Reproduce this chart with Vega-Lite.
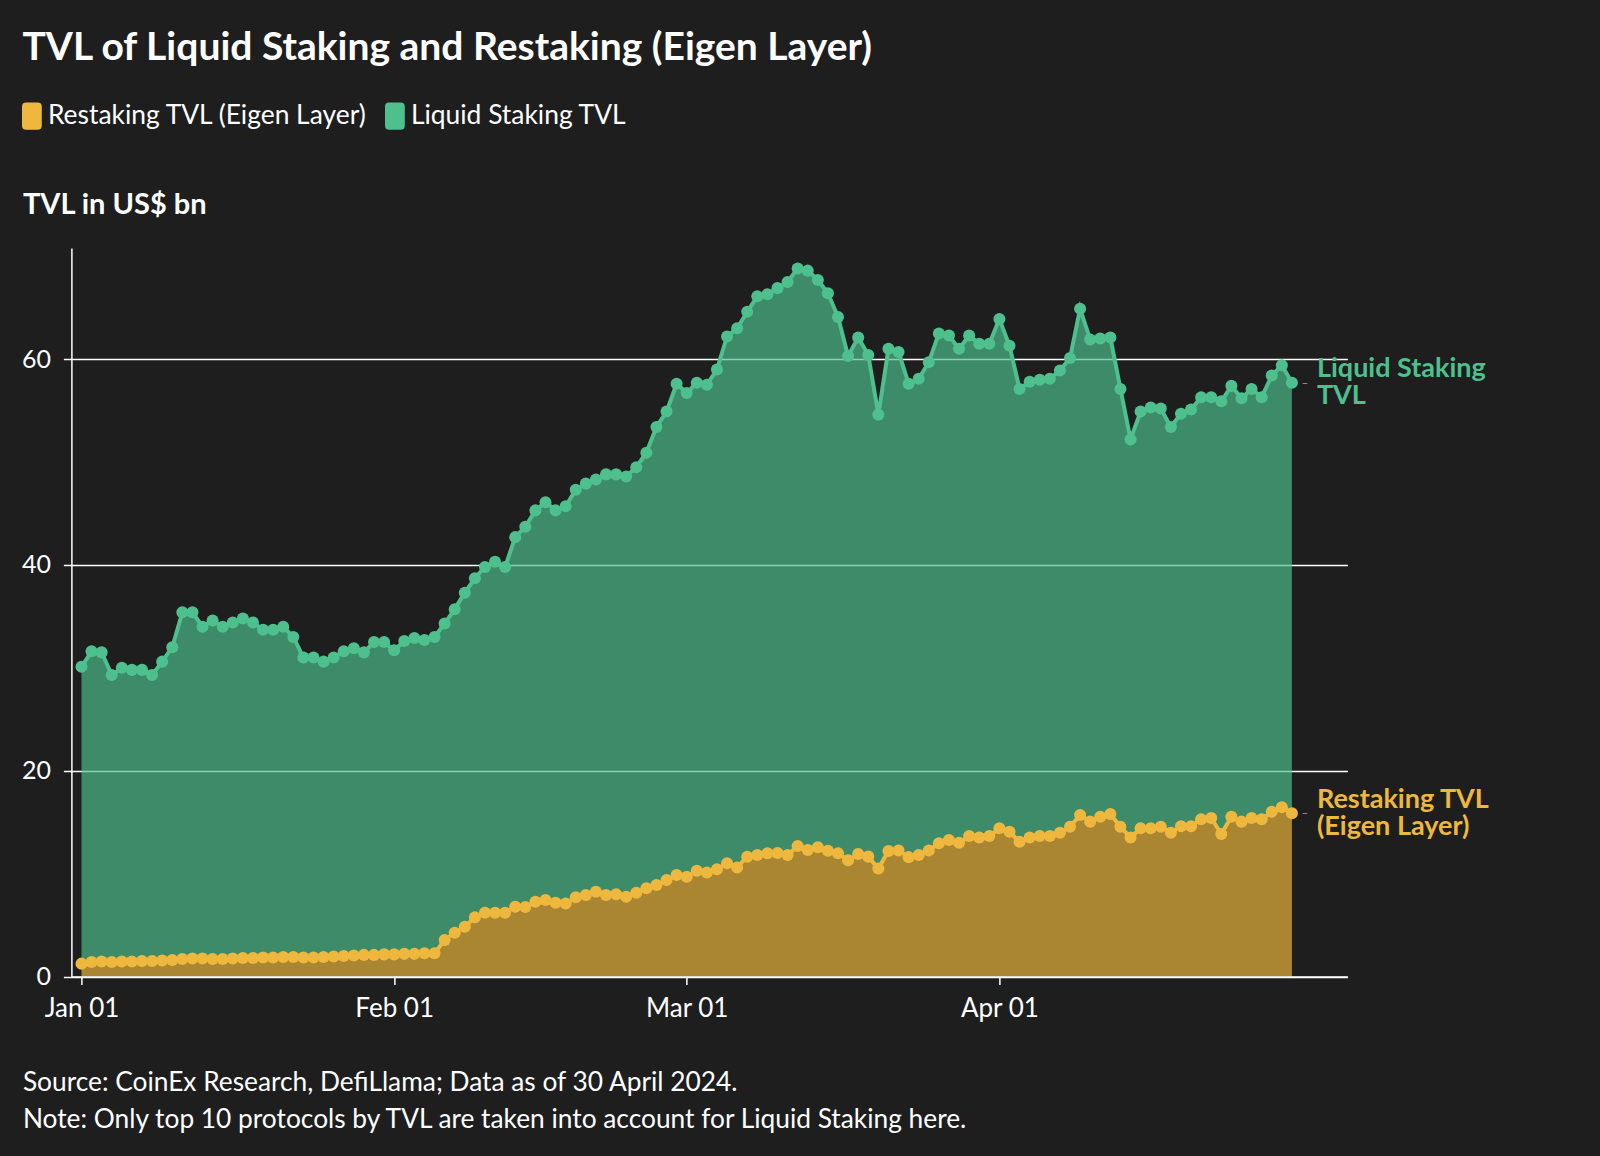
{
  "$schema": "https://vega.github.io/schema/vega-lite/v6.json",
  "width": 1276,
  "height": 728.5,
  "autosize": "none",
  "padding": {"left": 71.4, "top": 248, "right": 252.6, "bottom": 179.5},
  "background": "#1e1e1e",
  "title": {
    "text": "TVL of Liquid Staking and Restaking (Eigen Layer)",
    "anchor": "start",
    "frame": "group",
    "dx": -49,
    "dy": -24,
    "fontSize": 39,
    "font": "Lato",
    "fontWeight": "bold",
    "color": "#ffffff",
    "offset": 10
  },
  "data": {
    "values": [
      {"date": "2024/01/01", "liquid": 30.1, "restaking": 1.25},
      {"date": "2024/01/02", "liquid": 31.6, "restaking": 1.4},
      {"date": "2024/01/03", "liquid": 31.5, "restaking": 1.45},
      {"date": "2024/01/04", "liquid": 29.3, "restaking": 1.4},
      {"date": "2024/01/05", "liquid": 30.0, "restaking": 1.45},
      {"date": "2024/01/06", "liquid": 29.8, "restaking": 1.45},
      {"date": "2024/01/07", "liquid": 29.8, "restaking": 1.5},
      {"date": "2024/01/08", "liquid": 29.3, "restaking": 1.5},
      {"date": "2024/01/09", "liquid": 30.6, "restaking": 1.55},
      {"date": "2024/01/10", "liquid": 32.0, "restaking": 1.6},
      {"date": "2024/01/11", "liquid": 35.4, "restaking": 1.7},
      {"date": "2024/01/12", "liquid": 35.4, "restaking": 1.75},
      {"date": "2024/01/13", "liquid": 34.0, "restaking": 1.75},
      {"date": "2024/01/14", "liquid": 34.6, "restaking": 1.7},
      {"date": "2024/01/15", "liquid": 34.0, "restaking": 1.7},
      {"date": "2024/01/16", "liquid": 34.4, "restaking": 1.75},
      {"date": "2024/01/17", "liquid": 34.8, "restaking": 1.8},
      {"date": "2024/01/18", "liquid": 34.4, "restaking": 1.8},
      {"date": "2024/01/19", "liquid": 33.7, "restaking": 1.85},
      {"date": "2024/01/20", "liquid": 33.7, "restaking": 1.85},
      {"date": "2024/01/21", "liquid": 34.0, "restaking": 1.9},
      {"date": "2024/01/22", "liquid": 33.0, "restaking": 1.9},
      {"date": "2024/01/23", "liquid": 31.0, "restaking": 1.85},
      {"date": "2024/01/24", "liquid": 31.0, "restaking": 1.85},
      {"date": "2024/01/25", "liquid": 30.6, "restaking": 1.9},
      {"date": "2024/01/26", "liquid": 31.0, "restaking": 1.95},
      {"date": "2024/01/27", "liquid": 31.6, "restaking": 2.0},
      {"date": "2024/01/28", "liquid": 31.9, "restaking": 2.05},
      {"date": "2024/01/29", "liquid": 31.5, "restaking": 2.1},
      {"date": "2024/01/30", "liquid": 32.5, "restaking": 2.1},
      {"date": "2024/01/31", "liquid": 32.5, "restaking": 2.15},
      {"date": "2024/02/01", "liquid": 31.7, "restaking": 2.15},
      {"date": "2024/02/02", "liquid": 32.6, "restaking": 2.2},
      {"date": "2024/02/03", "liquid": 32.9, "restaking": 2.2},
      {"date": "2024/02/04", "liquid": 32.7, "restaking": 2.25},
      {"date": "2024/02/05", "liquid": 33.0, "restaking": 2.25},
      {"date": "2024/02/06", "liquid": 34.3, "restaking": 3.55},
      {"date": "2024/02/07", "liquid": 35.7, "restaking": 4.26},
      {"date": "2024/02/08", "liquid": 37.3, "restaking": 4.84},
      {"date": "2024/02/09", "liquid": 38.7, "restaking": 5.75},
      {"date": "2024/02/10", "liquid": 39.8, "restaking": 6.2},
      {"date": "2024/02/11", "liquid": 40.3, "restaking": 6.2},
      {"date": "2024/02/12", "liquid": 39.8, "restaking": 6.2},
      {"date": "2024/02/13", "liquid": 42.7, "restaking": 6.78},
      {"date": "2024/02/14", "liquid": 43.7, "restaking": 6.75},
      {"date": "2024/02/15", "liquid": 45.3, "restaking": 7.27},
      {"date": "2024/02/16", "liquid": 46.1, "restaking": 7.43},
      {"date": "2024/02/17", "liquid": 45.3, "restaking": 7.17},
      {"date": "2024/02/18", "liquid": 45.7, "restaking": 7.1},
      {"date": "2024/02/19", "liquid": 47.3, "restaking": 7.7},
      {"date": "2024/02/20", "liquid": 47.9, "restaking": 7.92},
      {"date": "2024/02/21", "liquid": 48.3, "restaking": 8.24},
      {"date": "2024/02/22", "liquid": 48.8, "restaking": 7.92},
      {"date": "2024/02/23", "liquid": 48.8, "restaking": 8.0},
      {"date": "2024/02/24", "liquid": 48.6, "restaking": 7.76},
      {"date": "2024/02/25", "liquid": 49.5, "restaking": 8.14},
      {"date": "2024/02/26", "liquid": 50.9, "restaking": 8.57},
      {"date": "2024/02/27", "liquid": 53.4, "restaking": 8.9},
      {"date": "2024/02/28", "liquid": 54.9, "restaking": 9.38},
      {"date": "2024/02/29", "liquid": 57.6, "restaking": 9.86},
      {"date": "2024/03/01", "liquid": 56.7, "restaking": 9.7},
      {"date": "2024/03/02", "liquid": 57.7, "restaking": 10.28},
      {"date": "2024/03/03", "liquid": 57.5, "restaking": 10.1},
      {"date": "2024/03/04", "liquid": 59.0, "restaking": 10.42},
      {"date": "2024/03/05", "liquid": 62.2, "restaking": 11.0},
      {"date": "2024/03/06", "liquid": 63.0, "restaking": 10.6},
      {"date": "2024/03/07", "liquid": 64.6, "restaking": 11.64},
      {"date": "2024/03/08", "liquid": 66.1, "restaking": 11.8},
      {"date": "2024/03/09", "liquid": 66.3, "restaking": 11.97},
      {"date": "2024/03/10", "liquid": 66.9, "restaking": 12.0},
      {"date": "2024/03/11", "liquid": 67.5, "restaking": 11.8},
      {"date": "2024/03/12", "liquid": 68.8, "restaking": 12.68},
      {"date": "2024/03/13", "liquid": 68.6, "restaking": 12.3},
      {"date": "2024/03/14", "liquid": 67.7, "restaking": 12.56},
      {"date": "2024/03/15", "liquid": 66.4, "restaking": 12.22},
      {"date": "2024/03/16", "liquid": 64.1, "restaking": 11.97},
      {"date": "2024/03/17", "liquid": 60.3, "restaking": 11.3},
      {"date": "2024/03/18", "liquid": 62.1, "restaking": 11.9},
      {"date": "2024/03/19", "liquid": 60.4, "restaking": 11.65},
      {"date": "2024/03/20", "liquid": 54.6, "restaking": 10.5},
      {"date": "2024/03/21", "liquid": 61.0, "restaking": 12.2},
      {"date": "2024/03/22", "liquid": 60.7, "restaking": 12.25},
      {"date": "2024/03/23", "liquid": 57.6, "restaking": 11.6},
      {"date": "2024/03/24", "liquid": 58.1, "restaking": 11.8},
      {"date": "2024/03/25", "liquid": 59.7, "restaking": 12.25},
      {"date": "2024/03/26", "liquid": 62.5, "restaking": 12.94},
      {"date": "2024/03/27", "liquid": 62.3, "restaking": 13.27},
      {"date": "2024/03/28", "liquid": 61.0, "restaking": 13.0},
      {"date": "2024/03/29", "liquid": 62.3, "restaking": 13.65},
      {"date": "2024/03/30", "liquid": 61.5, "restaking": 13.5},
      {"date": "2024/03/31", "liquid": 61.5, "restaking": 13.65},
      {"date": "2024/04/01", "liquid": 63.9, "restaking": 14.4},
      {"date": "2024/04/02", "liquid": 61.3, "restaking": 14.07},
      {"date": "2024/04/03", "liquid": 57.1, "restaking": 13.1},
      {"date": "2024/04/04", "liquid": 57.8, "restaking": 13.5},
      {"date": "2024/04/05", "liquid": 58.0, "restaking": 13.65},
      {"date": "2024/04/06", "liquid": 58.1, "restaking": 13.65},
      {"date": "2024/04/07", "liquid": 58.9, "restaking": 13.98},
      {"date": "2024/04/08", "liquid": 60.1, "restaking": 14.56},
      {"date": "2024/04/09", "liquid": 64.9, "restaking": 15.7},
      {"date": "2024/04/10", "liquid": 61.9, "restaking": 15.05},
      {"date": "2024/04/11", "liquid": 62.0, "restaking": 15.53},
      {"date": "2024/04/12", "liquid": 62.1, "restaking": 15.8},
      {"date": "2024/04/13", "liquid": 57.1, "restaking": 14.56},
      {"date": "2024/04/14", "liquid": 52.2, "restaking": 13.5},
      {"date": "2024/04/15", "liquid": 54.9, "restaking": 14.4},
      {"date": "2024/04/16", "liquid": 55.3, "restaking": 14.4},
      {"date": "2024/04/17", "liquid": 55.2, "restaking": 14.56},
      {"date": "2024/04/18", "liquid": 53.4, "restaking": 13.98},
      {"date": "2024/04/19", "liquid": 54.7, "restaking": 14.6},
      {"date": "2024/04/20", "liquid": 55.1, "restaking": 14.6},
      {"date": "2024/04/21", "liquid": 56.3, "restaking": 15.28},
      {"date": "2024/04/22", "liquid": 56.3, "restaking": 15.4},
      {"date": "2024/04/23", "liquid": 55.9, "restaking": 13.85},
      {"date": "2024/04/24", "liquid": 57.4, "restaking": 15.53},
      {"date": "2024/04/25", "liquid": 56.2, "restaking": 15.05},
      {"date": "2024/04/26", "liquid": 57.1, "restaking": 15.4},
      {"date": "2024/04/27", "liquid": 56.3, "restaking": 15.28},
      {"date": "2024/04/28", "liquid": 58.4, "restaking": 16.0},
      {"date": "2024/04/29", "liquid": 59.4, "restaking": 16.44},
      {"date": "2024/04/30", "liquid": 57.7, "restaking": 15.86}
    ]
  },
  "encoding": {
    "x": {
      "field": "date",
      "type": "temporal",
      "title": ["Source: CoinEx Research, DefiLlama; Data as of 30 April 2024.", "Note: Only top 10 protocols by TVL are taken into account for Liquid Staking here."],
      "scale": {"domain": [{"year": 2023, "month": "dec", "date": 31}, {"year": 2024, "month": "may", "date": 5, "hours": 12}], "nice": false},
      "axis": {
        "values": [
          {"year": 2024, "month": "jan", "date": 1},
          {"year": 2024, "month": "feb", "date": 1},
          {"year": 2024, "month": "mar", "date": 1},
          {"year": 2024, "month": "apr", "date": 1}
        ],
        "format": "%b %d",
        "grid": false,
        "zindex": 1,
        "labelFontSize": 26,
        "labelColor": "#ffffff",
        "labelPadding": 11,
        "domainColor": "#ffffff",
        "domainWidth": 1.5,
        "tickColor": "#ffffff",
        "tickWidth": 1.5,
        "tickSize": 8,
        "titleFontSize": 26.3,
        "titleFontWeight": "normal",
        "titleColor": "#ffffff",
        "titleAlign": "left",
        "titleAnchor": "start",
        "titleX": -49,
        "titleY": 93,
        "titleBaseline": "top",
        "titleLineHeight": 36.5
      }
    }
  },
  "layer": [
    {
      "mark": {"type": "area", "color": "#4dc08e", "opacity": 0.68},
      "encoding": {
        "y": {
          "field": "liquid",
          "type": "quantitative",
          "title": "TVL in US$ bn",
          "scale": {"domain": [0, 70.8], "nice": false, "zero": true},
          "axis": {
            "values": [0, 20, 40, 60],
            "grid": true,
            "gridColor": "#ffffff",
            "gridWidth": 1.3,
            "domainColor": "#ffffff",
            "domainWidth": 1.5,
            "tickColor": "#ffffff",
            "tickWidth": 1.5,
            "tickSize": 8,
            "labelFontSize": 25,
            "labelColor": "#ffffff",
            "labelPadding": 13,
            "titleAngle": 0,
            "titleAlign": "left",
            "titleBaseline": "middle",
            "titleAnchor": "start",
            "titleX": -49,
            "titleY": -44,
            "titleFontSize": 29,
            "titleFontWeight": "bold",
            "titleColor": "#ffffff"
          }
        },
        "y2": {"field": "restaking"}
      }
    },
    {
      "mark": {"type": "area", "color": "#eeb83e", "opacity": 0.68},
      "encoding": {
        "y": {"field": "restaking", "type": "quantitative", "title": "TVL in US$ bn", "scale": {"domain": [0, 70.8], "nice": false, "zero": true}}
      }
    },
    {
      "transform": [{"fold": ["restaking", "liquid"], "as": ["series", "value"]}],
      "mark": {"type": "line", "strokeWidth": 4, "point": {"filled": true, "size": 145, "opacity": 1}},
      "encoding": {
        "y": {"field": "value", "type": "quantitative", "title": "TVL in US$ bn", "scale": {"domain": [0, 70.8], "nice": false, "zero": true}},
        "color": {
          "field": "series",
          "type": "nominal",
          "scale": {"domain": ["restaking", "liquid"], "range": ["#eeb83e", "#4dc08e"]},
          "legend": {
            "orient": "none",
            "legendX": -53.5,
            "legendY": -146,
            "direction": "horizontal",
            "title": null,
            "symbolType": "M-0.42,-1 H0.42 Q0.72,-1 0.72,-0.7 V0.7 Q0.72,1 0.42,1 H-0.42 Q-0.72,1 -0.72,0.7 V-0.7 Q-0.72,-1 -0.42,-1 Z",
            "symbolSize": 756,
            "symbolStrokeWidth": 0,
            "labelFontSize": 26.4,
            "labelColor": "#ffffff",
            "labelOffset": 2,
            "labelLimit": 0,
            "columnPadding": 13,
            "labelExpr": "datum.label == 'restaking' ? 'Restaking TVL (Eigen Layer)' : 'Liquid Staking TVL'",
            "encode": {
              "symbols": {
                "update": {
                  "fill": {"scale": "color", "field": "value"},
                  "stroke": {"value": "transparent"},
                  "opacity": {"value": 1}
                }
              }
            }
          }
        }
      }
    },
    {
      "transform": [
        {"filter": {"field": "date", "equal": {"year": 2024, "month": "apr", "date": 30}}},
        {"fold": ["restaking", "liquid"], "as": ["series", "value"]}
      ],
      "mark": {"type": "text", "text": "–", "color": "#9a9a9a", "fontSize": 12, "dx": 13, "align": "center", "baseline": "middle"},
      "encoding": {
        "y": {"field": "value", "type": "quantitative", "title": "TVL in US$ bn", "scale": {"domain": [0, 70.8], "nice": false, "zero": true}}
      }
    },
    {
      "transform": [{"filter": {"field": "date", "equal": {"year": 2024, "month": "apr", "date": 30}}}],
      "mark": {"type": "text", "text": ["Liquid Staking", "TVL"], "color": "#4dc08e", "fontSize": 27, "fontWeight": "bold", "dx": 25, "dy": -13.5, "align": "left", "baseline": "middle", "lineHeight": 27},
      "encoding": {
        "y": {"field": "liquid", "type": "quantitative", "title": "TVL in US$ bn", "scale": {"domain": [0, 70.8], "nice": false, "zero": true}}
      }
    },
    {
      "transform": [{"filter": {"field": "date", "equal": {"year": 2024, "month": "apr", "date": 30}}}],
      "mark": {"type": "text", "text": ["Restaking TVL", "(Eigen Layer)"], "color": "#eeb83e", "fontSize": 27, "fontWeight": "bold", "dx": 25, "dy": -13.5, "align": "left", "baseline": "middle", "lineHeight": 27},
      "encoding": {
        "y": {"field": "restaking", "type": "quantitative", "title": "TVL in US$ bn", "scale": {"domain": [0, 70.8], "nice": false, "zero": true}}
      }
    }
  ],
  "config": {
    "font": "Lato",
    "view": {"stroke": null},
    "legend": {"labelFont": "Lato"},
    "axis": {"labelFont": "Lato", "titleFont": "Lato"}
  }
}
